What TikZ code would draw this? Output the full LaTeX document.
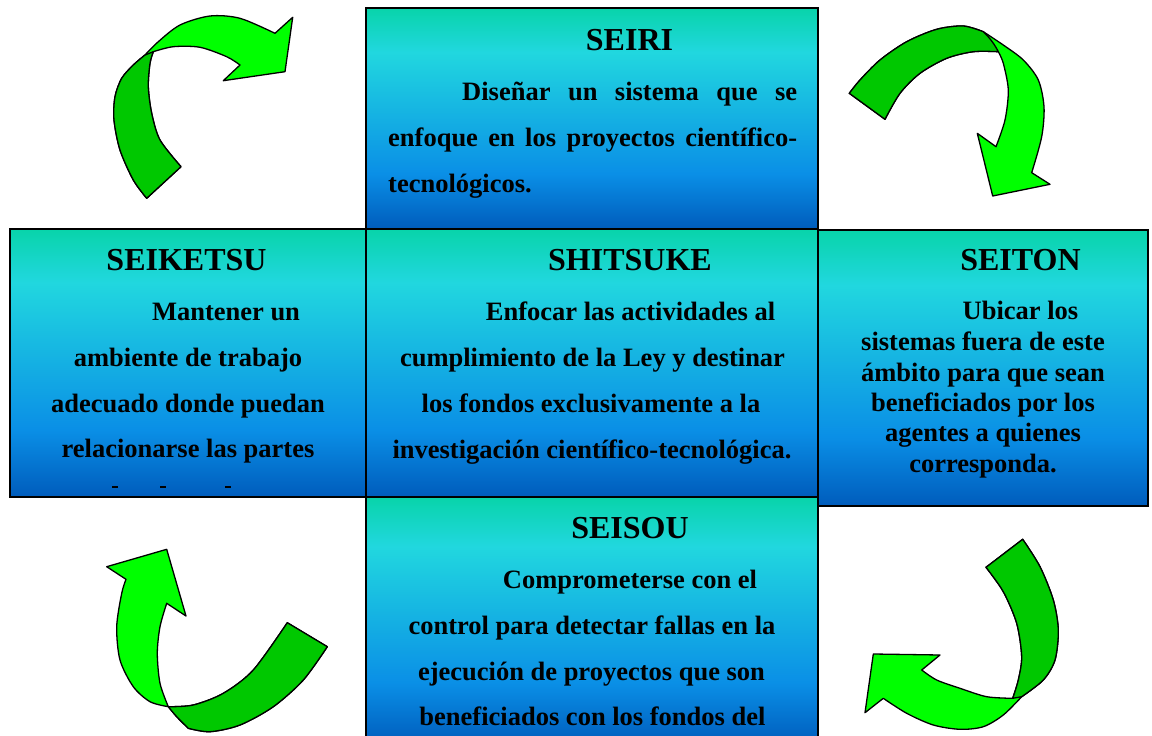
\documentclass[tikz,border=0pt]{standalone}
\usepackage{fontspec}
\setmainfont{Liberation Serif}
\definecolor{cTop}{HTML}{08D4AA}
\definecolor{cCyan}{HTML}{21D7DF}
\definecolor{cMid}{HTML}{0A8FE6}
\definecolor{cBot}{HTML}{005CBC}
\definecolor{arrowlight}{HTML}{00FF00}
\definecolor{arrowdark}{HTML}{00C800}
\pgfdeclareverticalshading{boxshade}{100bp}{color(0bp)=(cBot); color(25bp)=(cBot); color(37.5bp)=(cMid); color(65bp)=(cCyan); color(75bp)=(cTop); color(100bp)=(cTop)}
\begin{document}
\begin{tikzpicture}[x=1pt,y=-1pt,
  box/.style={rectangle, draw=black, line width=1.6pt, shading=boxshade, inner sep=0pt, outer sep=0pt},
  ttl/.style={anchor=base, inner sep=0pt, font=\bfseries\fontsize{32}{38}\selectfont},
  txt/.style={anchor=base, inner sep=0pt, font=\bfseries\fontsize{26.5}{32}\selectfont},
  txtw/.style={anchor=base west, inner sep=0pt, font=\bfseries\fontsize{26.5}{32}\selectfont},
  arrlight/.style={fill=arrowlight, draw=black, line width=1.3pt, line join=round},
  arrdark/.style={fill=arrowdark, draw=black, line width=1.3pt, line join=round}]
\path[use as bounding box] (0,0) rectangle (1152,736);
\clip (0,0) rectangle (1152,736);

% ---------- SEIRI ----------
\node[box, minimum width=452pt, minimum height=221pt] (seiri) at (592,118.5) {};
\node[ttl] (seiri-t) at (629.5,50) {SEIRI};
\node[txtw] (seiri-1) at (462,100) {\makebox[335pt][s]{Diseñar un sistema que se}};
\node[txtw] (seiri-2) at (388,146) {\makebox[409pt][s]{enfoque en los proyectos científico-}};
\node[txtw] (seiri-3) at (388,192) {tecnológicos.};

% ---------- SEISOU ----------
\node[box, minimum width=452pt, minimum height=248pt] (seisou) at (592,621) {};
\node[ttl] (seisou-t) at (630,538.3) {SEISOU};
\node[txt] (seisou-1) at (630,588.3) {Comprometerse con el};
\node[txt] (seisou-2) at (592,634) {control para detectar fallas en la};
\node[txt] (seisou-3) at (591.5,680) {ejecución de proyectos que son};
\node[txt] (seisou-4) at (592.5,725.5) {beneficiados con los fondos del};

% ---------- SEIKETSU ----------
\node[box, minimum width=356pt, minimum height=268pt] (seiketsu) at (188,363) {};
\node[ttl] (seiketsu-t) at (186.5,270) {SEIKETSU};
\node[txt] (seiketsu-1) at (226,320) {Mantener un};
\node[txt] (seiketsu-2) at (188,366) {ambiente de trabajo};
\node[txt] (seiketsu-3) at (188,412) {adecuado donde puedan};
\node[txt] (seiketsu-4) at (188,457.5) {relacionarse las partes};
\draw[line width=1.2pt] (112,487) -- (118,487);
\draw[line width=1.2pt] (160,487) -- (166,487);
\draw[line width=1.2pt] (225,487) -- (231,487);

% ---------- SHITSUKE ----------
\node[box, minimum width=452pt, minimum height=268pt] (shitsuke) at (592,363) {};
\node[ttl] (shitsuke-t) at (630,270) {SHITSUKE};
\node[txt] (shitsuke-1) at (630.5,320) {Enfocar las actividades al};
\node[txt] (shitsuke-2) at (592.5,366) {cumplimiento de la Ley y destinar};
\node[txt] (shitsuke-3) at (591,412) {los fondos exclusivamente a la};
\node[txt] (shitsuke-4) at (592,458) {investigación científico-tecnológica.};

% ---------- SEITON ----------
\node[box, minimum width=330pt, minimum height=276pt] (seiton) at (983,368) {};
\node[ttl] (seiton-t) at (1020.5,270) {SEITON};
\node[txt] (seiton-1) at (1020.5,319.3) {Ubicar los};
\node[txt] (seiton-2) at (983,350) {sistemas fuera de este};
\node[txt] (seiton-3) at (983,381) {ámbito para que sean};
\node[txt] (seiton-4) at (983,411.7) {beneficiados por los};
\node[txt] (seiton-5) at (983,441.7) {agentes a quienes};
\node[txt] (seiton-6) at (983,472.3) {corresponda.};

% ---------- Arrow top-left ----------
\path[arrlight] plot[smooth] coordinates {(146.7,198.3) (133.3,180) (120,150) (114,120) (115,96.7) (121.7,78.3) (133.3,65) (145,55)}
  -- plot[smooth] coordinates {(145,55) (158.3,41.7) (180,25) (210,16) (240,18.3) (275,33.3)}
  -- (292.7,17.3) -- (285,71.7) -- (223.3,80.7) -- (240,65)
  -- plot[smooth] coordinates {(240,65) (226.7,56.7) (200,47.3) (173.3,46.7) (153.3,51.7)}
  -- plot[smooth] coordinates {(153.3,51.7) (150,63.3) (148.3,86.7) (151.7,113.3) (160,140) (181,166.7)}
  -- cycle;
\path[arrdark] plot[smooth] coordinates {(146.7,198.3) (133.3,180) (120,150) (114,120) (115,96.7) (121.7,78.3) (133.3,65) (145,55)}
  -- (153.3,51.7)
  -- plot[smooth] coordinates {(153.3,51.7) (150,63.3) (148.3,86.7) (151.7,113.3) (160,140) (181,166.7)}
  -- cycle;

% ---------- Arrow top-right ----------
\path[arrlight] plot[smooth] coordinates {(849.3,93.3) (860,80) (880,60) (906.7,41.7) (936.7,29.3) (963.3,26) (983.3,31.7)}
  -- plot[smooth] coordinates {(983.3,31.7) (1003.3,45) (1023.3,60) (1038.3,80) (1044,106.7) (1041.7,136.7) (1031.7,172.7)}
  -- (1050,184.3) -- (992.7,196) -- (977.3,133.3) -- (996,146.7)
  -- plot[smooth] coordinates {(996,146.7) (1005,120) (1008.3,90) (1003.3,63.3) (998.3,51.7)}
  -- plot[smooth] coordinates {(998.3,51.7) (973.3,51.7) (946.7,58.3) (920,73.3) (900,93.3) (885,119.3)}
  -- cycle;
\path[arrdark] plot[smooth] coordinates {(849.3,93.3) (860,80) (880,60) (906.7,41.7) (936.7,29.3) (963.3,26) (983.3,31.7)}
  .. controls (990,38) and (995,45) .. (998.3,51.7)
  -- plot[smooth] coordinates {(998.3,51.7) (973.3,51.7) (946.7,58.3) (920,73.3) (900,93.3) (885,119.3)}
  -- cycle;

% ---------- Arrow bottom-left ----------
\path[arrlight] (166.7,549.3) -- (186,616) -- (166.7,603.3)
  -- plot[smooth] coordinates {(166.7,603.3) (160,626.7) (157.3,653.3) (160,683.3) (168.3,706.7)}
  -- plot[smooth] coordinates {(168.3,706.7) (193.3,705) (223.3,693.3) (253.3,670) (287.3,622.7)}
  -- (327.3,646.7)
  -- plot[smooth] coordinates {(327.3,646.7) (303.3,680) (273.3,706.7) (240,725) (210,731.7) (188.3,728.3)}
  -- plot[smooth] coordinates {(188.3,728.3) (176.7,716.7) (168.3,706.7)}
  -- plot[smooth] coordinates {(168.3,706.7) (150,701.7) (133.3,686.7) (120,660) (116.7,626.7) (121.7,593.3) (126,579.3)}
  -- (106.7,566.7) -- cycle;
\path[arrdark] plot[smooth] coordinates {(168.3,706.7) (193.3,705) (223.3,693.3) (253.3,670) (287.3,622.7)}
  -- (327.3,646.7)
  -- plot[smooth] coordinates {(327.3,646.7) (303.3,680) (273.3,706.7) (240,725) (210,731.7) (188.3,728.3)}
  -- plot[smooth] coordinates {(188.3,728.3) (176.7,716.7) (168.3,706.7)}
  -- cycle;

% ---------- Arrow bottom-right ----------
\path[arrlight] (986,567.3) -- (1022.7,539.3)
  -- plot[smooth] coordinates {(1022.7,539.3) (1040,566.7) (1053.3,600) (1058.3,630) (1055,660) (1043.3,680) (1021.7,696.7)}
  -- plot[smooth] coordinates {(1021.7,696.7) (1003.3,715) (983.3,726.7) (960,729.3) (933.3,725) (906.7,713.3) (883.3,698.3)}
  -- (865,712.7) -- (873.3,654) -- (940,655) -- (921.7,670)
  -- plot[smooth] coordinates {(921.7,670) (936.7,680) (960,688.3) (986.7,696.7) (1012.7,698.3)}
  -- plot[smooth] coordinates {(1012.7,698.3) (1018.3,680) (1021.7,656.7) (1016.7,623.3) (1003.3,591.7) (986,567.3)}
  -- cycle;
\path[arrdark] (986,567.3) -- (1022.7,539.3)
  -- plot[smooth] coordinates {(1022.7,539.3) (1040,566.7) (1053.3,600) (1058.3,630) (1055,660) (1043.3,680) (1021.7,696.7)}
  -- (1012.7,698.3)
  -- plot[smooth] coordinates {(1012.7,698.3) (1018.3,680) (1021.7,656.7) (1016.7,623.3) (1003.3,591.7) (986,567.3)}
  -- cycle;
\end{tikzpicture}
\end{document}
